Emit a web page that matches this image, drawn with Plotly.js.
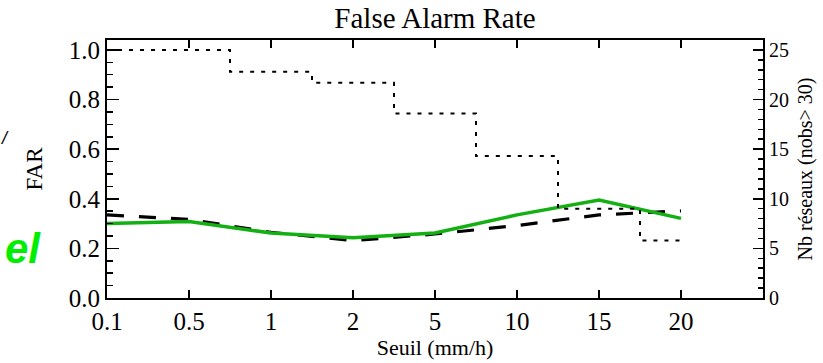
<!DOCTYPE html>
<html>
<head>
<meta charset="utf-8">
<script src="https://cdn.plot.ly/plotly-3.0.1.min.js"></script>
<style>html,body{margin:0;padding:0;background:#fff;}#chart{width:823px;height:363px;}</style>
</head>
<body>
<div id="chart"></div>
<script>
// Thresholds (mm/h) shown as equally spaced categories
const seuilLabels = ['0.1', '0.5', '1', '2', '5', '10', '15', '20'];
const seuilIndex = [0, 1, 2, 3, 4, 5, 6, 7];
// FAR, solid green curve
const farGreen = [0.300, 0.308, 0.262, 0.243, 0.262, 0.335, 0.395, 0.321];
// FAR, dashed black curve
const farBlack = [0.335, 0.317, 0.265, 0.231, 0.258, 0.292, 0.335, 0.351];
// Number of networks (nobs > 30), dotted step curve on the right axis
const nbReseaux = [25, 25, 22.8, 21.7, 18.6, 14.3, 9, 5.8];

const serif = "'Liberation Serif', 'Times New Roman', Times, serif";
const sans = "'Liberation Sans', Arial, sans-serif";

const traces = [
  {x: seuilIndex, y: nbReseaux, yaxis: 'y2', mode: 'lines', line: {shape: 'hvh', color: '#000', width: 2, dash: '4px,7px'}, hoverinfo: 'skip', name: 'Nb réseaux'},
  {x: seuilIndex, y: farBlack, mode: 'lines', line: {color: '#000', width: 3.2, dash: '17px,15px'}, name: 'FAR ref'},
  {x: seuilIndex, y: farGreen, mode: 'lines', line: {color: '#12b012', width: 3.5}, name: 'FAR'}
];

const layout = {
  width: 823, height: 363,
  margin: {l: 107, r: 60, t: 40, b: 65},
  paper_bgcolor: '#fff', plot_bgcolor: '#fff',
  showlegend: false,
  font: {family: serif, color: '#000', size: 22},
  title: {text: 'False Alarm Rate', font: {family: serif, size: 29, color: '#000'}, x: 0.5, xref: 'paper', xanchor: 'center', y: 0.95, yref: 'container', yanchor: 'middle'},
  xaxis: {
    range: [0, 8], tickvals: seuilIndex, ticktext: seuilLabels,
    showgrid: false, zeroline: false, showline: true, linecolor: '#000', linewidth: 2, mirror: 'ticks',
    ticks: 'inside', ticklen: 8, tickwidth: 1.5, tickcolor: '#000',
    tickfont: {family: serif, size: 25, color: '#000'},
    title: {text: 'Seuil (mm/h)', font: {family: serif, size: 22, color: '#000'}, standoff: 4}
  },
  yaxis: {
    range: [0, 1.04], dtick: 0.2, tick0: 0, tickformat: '.1f',
    showgrid: false, zeroline: false, showline: true, linecolor: '#000', linewidth: 2,
    ticks: 'inside', ticklen: 12, tickwidth: 1.5, tickcolor: '#000',
    minor: {dtick: 0.05, ticks: 'inside', ticklen: 6, tickwidth: 1.5, tickcolor: '#000', showgrid: false},
    tickfont: {family: serif, size: 25, color: '#000'},
    title: {text: 'FAR', font: {family: serif, size: 23, color: '#000'}, standoff: 20}
  },
  yaxis2: {
    overlaying: 'y', side: 'right', range: [0, 26], dtick: 5, tick0: 0,
    showgrid: false, zeroline: false, showline: true, linecolor: '#000', linewidth: 2,
    ticks: 'inside', ticklen: 10, tickwidth: 1.5, tickcolor: '#000',
    minor: {dtick: 1, ticks: 'inside', ticklen: 5, tickwidth: 1.5, tickcolor: '#000', showgrid: false},
    tickfont: {family: serif, size: 20, color: '#000'},
    title: {text: 'Nb réseaux (nobs> 30)', font: {family: serif, size: 20, color: '#000'}, standoff: 10}
  },
  annotations: [
    {text: '<b><i>el</i></b>', xref: 'paper', yref: 'paper', x: -0.158, y: 0.19, xanchor: 'left', yanchor: 'middle', showarrow: false, font: {family: sans, size: 42, color: '#00ee00'}},
    {text: '<i>/</i>', xref: 'paper', yref: 'paper', x: -0.156, y: 0.62, xanchor: 'center', yanchor: 'middle', showarrow: false, font: {family: sans, size: 18, color: '#000'}}
  ]
};

Plotly.newPlot('chart', traces, layout, {staticPlot: true, displayModeBar: false});
</script>
</body>
</html>
